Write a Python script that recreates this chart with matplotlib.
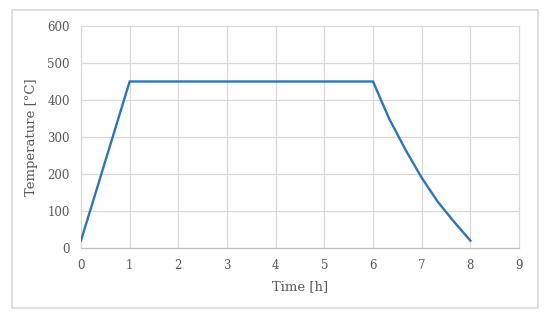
import matplotlib
matplotlib.use("Agg")
import matplotlib.pyplot as plt
from matplotlib.patches import Rectangle

time_h = [0, 1, 6, 6.33, 6.67, 7, 7.33, 7.67, 8]
temp_c = [20, 450, 450, 350, 265, 190, 125, 70, 20]
x_ticks = [0, 1, 2, 3, 4, 5, 6, 7, 8, 9]
y_ticks = [0, 100, 200, 300, 400, 500, 600]

plt.rcParams['font.family'] = ['DejaVu Serif']
fig = plt.figure(figsize=(5.5, 3.23), dpi=100)
W, H = 550, 323
ax = fig.add_axes([81 / W, 1 - 248 / H, (519 - 81) / W, (248 - 26) / H])

fig.patches.append(Rectangle((12 / W, 1 - 308 / H), (538 - 12) / W, (308 - 10) / H,
                             transform=fig.transFigure, fill=False,
                             edgecolor='#D9D9D9', linewidth=1.2))

ax.plot(time_h, temp_c, color='#2E75B6', linewidth=1.7, solid_joinstyle='miter', zorder=3)
ax.set_xlim(0, 9)
ax.set_ylim(0, 600)
ax.set_xticks(x_ticks)
ax.set_yticks(y_ticks)
ax.grid(True, color='#D9D9D9', linewidth=0.9, clip_on=False)
ax.set_axisbelow(True)
for s in ['top', 'right', 'left']:
    ax.spines[s].set_visible(False)
ax.spines['bottom'].set_color('#BFBFBF')
ax.tick_params(length=0, colors='#595959', labelsize=8.5)
ax.tick_params(axis='x', pad=8)
ax.tick_params(axis='y', pad=8)
ax.set_xlabel('Time [h]', color='#595959', fontsize=9.5, labelpad=6)
ax.set_ylabel('Temperature [°C]', color='#595959', fontsize=9.5, labelpad=7)

fig.savefig('out.png', dpi=100)
